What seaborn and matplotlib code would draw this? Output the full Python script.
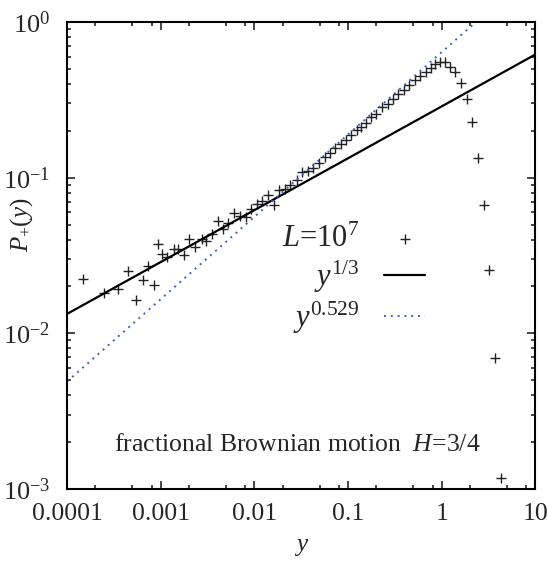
import numpy as np
import pandas as pd
import seaborn as sns
import matplotlib.pyplot as plt
from matplotlib.ticker import LogLocator, NullFormatter

# Data: y and P_+(y), L = 10^7
y_vals = [1.49e-4, 2.49e-4, 3.48e-4, 4.51e-4, 5.41e-4, 6.52e-4, 7.38e-4, 8.41e-4,
          9.46e-4, 1.045e-3, 1.18e-3, 1.40e-3, 1.54e-3, 1.77e-3, 2.02e-3, 2.32e-3,
          2.74e-3, 3.03e-3, 3.53e-3, 4.09e-3, 4.67e-3, 5.20e-3, 6.07e-3, 7.03e-3,
          8.09e-3, 9.23e-3, 1.06e-2, 1.21e-2, 1.40e-2, 1.61e-2, 1.85e-2, 2.14e-2,
          2.40e-2, 2.84e-2, 3.26e-2, 3.70e-2, 4.27e-2, 4.94e-2, 5.62e-2, 6.35e-2,
          7.28e-2, 8.34e-2, 9.55e-2, 0.109, 0.124, 0.138, 0.156, 0.175,
          0.200, 0.230, 0.266, 0.301, 0.345, 0.397, 0.453, 0.518,
          0.589, 0.677, 0.767, 0.853, 0.964, 1.09, 1.23, 1.40,
          1.61, 1.86, 2.13, 2.47, 2.82, 3.24, 3.73, 4.29]
p_vals = [0.0223, 0.0182, 0.0194, 0.0252, 0.0163, 0.0219, 0.0272, 0.0203,
          0.0373, 0.0322, 0.0310, 0.0346, 0.0347, 0.0318, 0.0402, 0.0360,
          0.0402, 0.0394, 0.0435, 0.0530, 0.0470, 0.0514, 0.0593, 0.0568,
          0.0557, 0.0627, 0.0678, 0.0712, 0.0771, 0.0665, 0.0830, 0.0843,
          0.0893, 0.0971, 0.108, 0.110, 0.115, 0.124, 0.136, 0.144,
          0.154, 0.164, 0.174, 0.189, 0.202, 0.211, 0.226, 0.244,
          0.257, 0.286, 0.297, 0.322, 0.345, 0.366, 0.394, 0.422,
          0.450, 0.480, 0.504, 0.535, 0.553, 0.551, 0.516, 0.480,
          0.404, 0.320, 0.227, 0.134, 0.0665, 0.0257, 0.00698, 0.00118]

# power laws y^{1/3} and y^{0.529}
line_y = [1e-4, 10]
amp_a, exp_a = 0.287, 1 / 3
amp_b, exp_b = 0.64, 0.529

x_ticks = [1e-4, 1e-3, 1e-2, 1e-1, 1, 10]
x_labels = ["0.0001", "0.001", "0.01", "0.1", "1", "10"]

df = pd.DataFrame({"y": y_vals, "P": p_vals})
lines = pd.DataFrame({
    "y": line_y,
    "a": [amp_a * v ** exp_a for v in line_y],
    "b": [amp_b * v ** exp_b for v in line_y],
})

sns.set_theme(style="ticks")
plt.rcParams["font.family"] = ["Liberation Serif", "DejaVu Serif"]
plt.rcParams["mathtext.fontset"] = "custom"
plt.rcParams["mathtext.rm"] = "Liberation Serif"
plt.rcParams["mathtext.it"] = "Liberation Serif:italic"

fig = plt.figure(figsize=(5.48, 5.69), dpi=100)
ax = fig.add_axes([0.1223, 0.1406, 0.8545, 0.8207])

sns.scatterplot(data=df, x="y", y="P", marker="+", s=60, color="#222222",
                linewidth=1.0, ax=ax, label=r"$L$=10$^7$")
sns.lineplot(data=lines, x="y", y="a", color="black", lw=1.6, ax=ax,
             label=r"$y^{1/3}$")
sns.lineplot(data=lines, x="y", y="b", color="#3f5fbf", lw=1.4,
             linestyle=(0, (1, 2.5)), ax=ax, label=r"$y^{0.529}$")

ax.set_xscale("log")
ax.set_yscale("log")
ax.set_xlim(1e-4, 10)
ax.set_ylim(1e-3, 1)
ax.set_xticks(x_ticks, x_labels)
ax.xaxis.set_minor_locator(LogLocator(base=10, subs=[2, 5, 8]))
ax.xaxis.set_minor_formatter(NullFormatter())
ax.yaxis.set_minor_locator(LogLocator(base=10, subs=np.arange(2, 10)))
ax.yaxis.set_minor_formatter(NullFormatter())

ax.tick_params(which="both", direction="in", top=True, right=True, width=1.2)
ax.tick_params(which="major", length=6)
ax.tick_params(which="minor", length=3)
ax.tick_params(axis="x", pad=10, labelsize=18.5)
ax.tick_params(axis="y", pad=12, labelsize=19)
for s in ax.spines.values():
    s.set_linewidth(1.5)
    s.set_color("black")

ax.set_xlabel(r"$y$", fontsize=18, labelpad=8)
ax.set_ylabel(r"$P_{+}(y)$", fontsize=18, va="center")
ax.yaxis.set_label_coords(-0.098, 0.565)

ax.text(0.491, 0.094, r"fractional Brownian motion  $H$=3/4",
        transform=ax.transAxes, ha="center", va="center", fontsize=18.5)

ax.legend(loc="center right", bbox_to_anchor=(0.765, 0.447), frameon=False,
          markerfirst=False, fontsize=22, handlelength=1.35, labelspacing=0.15,
          handletextpad=0.8, borderpad=0, borderaxespad=0)

fig.savefig("out.png", dpi=100)
